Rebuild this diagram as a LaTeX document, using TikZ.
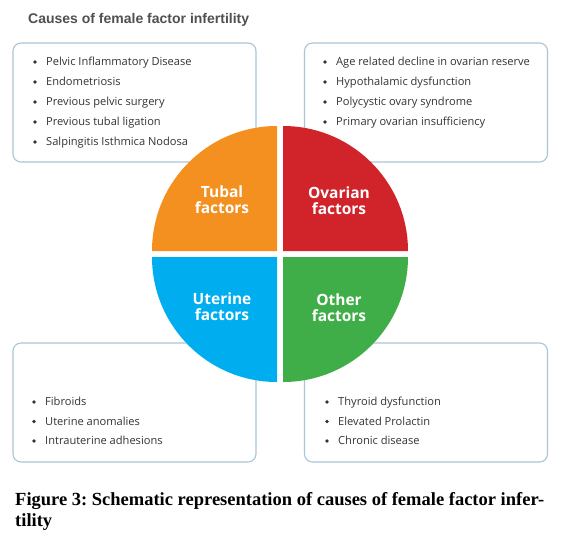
\documentclass[tikz,border=0pt]{standalone}
\usepackage{fontspec}
\setmainfont{Open Sans}
\newfontfamily\capfont{Liberation Serif}
\newfontfamily\titlefont{Liberation Sans}
\frenchspacing
\definecolor{boxline}{HTML}{A9C6D6}
\definecolor{txt}{HTML}{333333}
\definecolor{ttl}{HTML}{505050}
\definecolor{corange}{HTML}{F39020}
\definecolor{cred}{HTML}{D1232A}
\definecolor{cblue}{HTML}{00AEEF}
\definecolor{cgreen}{HTML}{3FAE49}
\begin{document}
\begin{tikzpicture}[x=1pt,y=-1pt,
  listbox/.style={draw=boxline,line width=1.1pt,rounded corners=8pt,fill=white,
    minimum width=243pt,minimum height=119pt,inner sep=0pt},
  item/.style={anchor=base west,inner sep=0pt,text=txt,font=\fontsize{11.1}{13}\selectfont},
  dot/.style={circle,fill=txt,inner sep=0pt,minimum size=3.6pt},
  seclabel/.style={text=white,align=center,inner sep=0pt,
    font=\bfseries\fontsize{15.5}{16}\selectfont},
  captxt/.style={anchor=base west,inner sep=0pt,font=\capfont\bfseries\fontsize{18.5}{21}\selectfont}]
\useasboundingbox (0,0) rectangle (561,542);
\fill[white] (0,0) rectangle (561,542);
% title
\node[anchor=base west,inner sep=0pt,text=ttl,font=\titlefont\bfseries\fontsize{14}{16}\selectfont] (title) at (28,23) {Causes of female factor infertility};
% boxes
\node[listbox] (tl) at (134.5,102.5) {};
\node[listbox] (tr) at (426,102.5) {};
\node[listbox] (bl) at (134.5,402.5) {};
\node[listbox] (br) at (426,402.5) {};
% top-left items
\foreach \t [count=\i] in {Pelvic Inflammatory Disease,Endometriosis,Previous pelvic surgery,Previous tubal ligation,Salpingitis Isthmica Nodosa}{
  \node[dot] (tlb\i) at (35,{62+20*(\i-1)}) {};
  \node[item] (tli\i) at (46,{65.5+20*(\i-1)}) {\t};
}
% top-right items
\foreach \t [count=\i] in {Age related decline in ovarian reserve,Hypothalamic dysfunction,Polycystic ovary syndrome,Primary ovarian insufficiency}{
  \node[dot] (trb\i) at (325,{62+20*(\i-1)}) {};
  \node[item] (tri\i) at (336,{65.5+20*(\i-1)}) {\t};
}
% bottom-left items
\foreach \t [count=\i] in {Fibroids,Uterine anomalies,Intrauterine adhesions}{
  \node[dot] (blb\i) at (34,{402+19.5*(\i-1)}) {};
  \node[item] (bli\i) at (45,{405.5+19.5*(\i-1)}) {\t};
}
% bottom-right items
\foreach \t [count=\i] in {Thyroid dysfunction,Elevated Prolactin,Chronic disease}{
  \node[dot] (brb\i) at (327,{402+19.5*(\i-1)}) {};
  \node[item] (bri\i) at (338,{405.5+19.5*(\i-1)}) {\t};
}
% circle sectors
\fill[corange] (277,251) -- ++(-125,0) arc[start angle=180,end angle=270,radius=125] -- cycle;
\fill[cred] (283,251) -- ++(0,-125) arc[start angle=270,end angle=360,radius=125] -- cycle;
\fill[cgreen] (283,257) -- ++(125,0) arc[start angle=0,end angle=90,radius=125] -- cycle;
\fill[cblue] (277,257) -- ++(0,125) arc[start angle=90,end angle=180,radius=125] -- cycle;
\node[seclabel] (tubal) at (222,200) {Tubal\\factors};
\node[seclabel] (ovarian) at (339,201) {Ovarian\\factors};
\node[seclabel] (uterine) at (222,307) {Uterine\\factors};
\node[seclabel] (other) at (339,308) {Other\\factors};
% caption
\node[captxt] (cap1) at (15,505) {Figure 3: Schematic representation of causes of female factor infer-};
\node[captxt] (cap2) at (15,526) {tility};
\end{tikzpicture}
\end{document}
